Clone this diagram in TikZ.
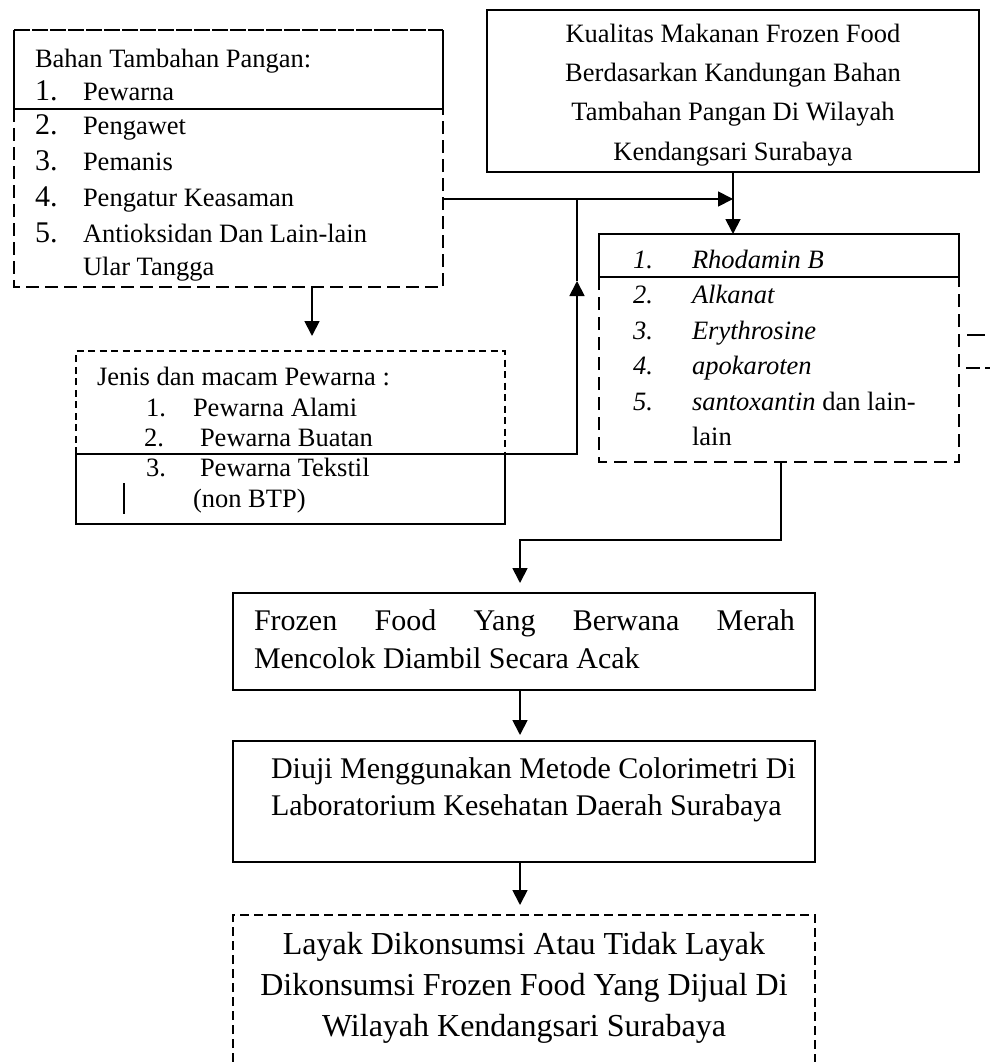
\documentclass[tikz,border=0pt]{standalone}
\usepackage{fontspec}
\setmainfont{Liberation Serif}
\usetikzlibrary{arrows.meta}
\begin{document}
\begin{tikzpicture}[x=1pt,y=-1pt,
  zone/.style={rectangle,inner sep=0pt,outer sep=0pt},
  lbl/.style={anchor=base west,inner sep=0pt,outer sep=0pt,font=\fontsize{26.5}{32}\selectfont},
  clbl/.style={lbl,anchor=base},
  bignum/.style={lbl,font=\fontsize{30}{32}\selectfont},
  itlbl/.style={lbl,font=\fontsize{26.5}{32}\selectfont\itshape},
  midtext/.style={lbl,font=\fontsize{30}{36}\selectfont},
  bigtext/.style={clbl,font=\fontsize{32}{40}\selectfont},
  rim/.style={line width=1.7pt},
  thickrim/.style={line width=2.3pt},
  dashA/.style={line width=1.7pt,dash pattern=on 13pt off 6pt},
  dashC/.style={line width=1.7pt,dash pattern=on 13pt off 7pt},
  dashD/.style={line width=1.5pt,dash pattern=on 7pt off 4.5pt},
  dashG/.style={line width=1.4pt,dash pattern=on 9pt off 5pt},
  link/.style={line width=1.8pt},
  arr/.style={link,-{Triangle[width=15pt,length=15pt]}}]
\useasboundingbox (0,0) rectangle (990,1062);

% ---------- box A : food additives ----------
\node[zone,minimum width=429pt,minimum height=257pt] (boxA) at (228.5,158.5) {};
\draw[rim,dash pattern=on 16pt off 2pt] (14,30) -- (443,30);
\draw[rim] (14,30) -- (14,109) -- (443,109) -- (443,30);
\draw[dashA] (14,109) -- (14,287) -- (443,287) -- (443,109);
\node[lbl] (a0) at (35,68) {Bahan Tambahan Pangan:};
\node[bignum] (a1n) at (35,101) {1.}; \node[lbl] (a1) at (83,101) {Pewarna};
\node[bignum] (a2n) at (35,135) {2.}; \node[lbl] (a2) at (83,135) {Pengawet};
\node[bignum] (a3n) at (35,170) {3.}; \node[lbl] (a3) at (83,170) {Pemanis};
\node[bignum] (a4n) at (35,206) {4.}; \node[lbl] (a4) at (83,206) {Pengatur Keasaman};
\node[bignum] (a5n) at (35,242) {5.}; \node[lbl] (a5) at (83,242) {Antioksidan Dan Lain-lain};
\node[lbl] (a6) at (83,275) {Ular Tangga};

% ---------- box B : title ----------
\node[zone,draw,thickrim,minimum width=492pt,minimum height=162pt] (boxB) at (733,91) {};
\node[clbl] (b1) at (733,43) {Kualitas Makanan Frozen Food};
\node[clbl] (b2) at (733,82) {Berdasarkan Kandungan Bahan};
\node[clbl] (b3) at (733,121) {Tambahan Pangan Di Wilayah};
\node[clbl] (b4) at (733,160) {Kendangsari Surabaya};

% ---------- box C : red dyes ----------
\node[zone,minimum width=360pt,minimum height=228pt] (boxC) at (779,348) {};
\draw[rim] (599,277) -- (599,234) -- (959,234) -- (959,285);
\draw[rim] (599,277) -- (959,277);
\draw[dashC] (599,277) -- (599,462) -- (959,462) -- (959,285);
\node[itlbl] (c1n) at (633,268) {1.}; \node[itlbl] (c1) at (692,268) {Rhodamin B};
\node[itlbl] (c2n) at (633,303) {2.}; \node[itlbl] (c2) at (692,303) {Alkanat};
\node[itlbl] (c3n) at (633,339) {3.}; \node[itlbl] (c3) at (692,339) {Erythrosine};
\node[itlbl] (c4n) at (633,374) {4.}; \node[itlbl] (c4) at (692,374) {apokaroten};
\node[itlbl] (c5n) at (633,410) {5.}; \node[lbl] (c5) at (692,410) {\textit{santoxantin} dan lain-};
\node[lbl] (c6) at (692,445) {lain};
\draw[rim] (967,335) -- (985,335);
\draw[rim,dash pattern=on 14pt off 5pt] (966,368) -- (990,368);

% ---------- box D : kinds of colourants ----------
\node[zone,minimum width=429pt,minimum height=173pt] (boxD) at (290.5,437.5) {};
\draw[dashD] (76,454) -- (76,351) -- (505,351) -- (505,454);
\draw[rim] (76,454) rectangle (505,524);
\node[lbl] (d0) at (97,385) {Jenis dan macam Pewarna :};
\node[lbl] (d1n) at (146,416) {1.}; \node[lbl] (d1) at (193,416) {Pewarna Alami};
\node[lbl] (d2n) at (144,446) {2.}; \node[lbl] (d2) at (200,446) {Pewarna Buatan};
\node[lbl] (d3n) at (146,476) {3.}; \node[lbl] (d3) at (200,476) {Pewarna Tekstil};
\node[lbl] (d4) at (193,507) {(non BTP)};
\draw[rim] (124,483) -- (124,514);

% ---------- boxes E, F, G : procedure ----------
\node[zone,draw,rim,minimum width=582pt,minimum height=97pt] (boxE) at (524,641.5) {};
\node[midtext] (e1) at (254,630) {\hbox to 541pt{Frozen\hfill Food\hfill Yang\hfill Berwana\hfill Merah}};
\node[midtext] (e2) at (254,668) {Mencolok Diambil Secara Acak};

\node[zone,draw,rim,minimum width=582pt,minimum height=121pt] (boxF) at (524,801.5) {};
\node[midtext] (f1) at (271,778) {Diuji Menggunakan Metode Colorimetri Di};
\node[midtext] (f2) at (271,815) {Laboratorium Kesehatan Daerah Surabaya};

\node[zone,minimum width=582pt,minimum height=150pt] (boxG) at (524,990) {};
\draw[dashG] (233,1062) -- (233,915) -- (815,915) -- (815,1062);
\node[bigtext] (g1) at (524,954) {Layak Dikonsumsi Atau Tidak Layak};
\node[bigtext] (g2) at (524,995) {Dikonsumsi Frozen Food Yang Dijual Di};
\node[bigtext] (g3) at (524,1036) {Wilayah Kendangsari Surabaya};

% ---------- connectors ----------
\coordinate (jn) at (577,199);
\coordinate (jtip) at (577,281);
\coordinate (tipA) at (312,336);
\coordinate (tipE) at (520,583);
\coordinate (tipF) at (520,735);
\coordinate (tipG) at (520,905);

\draw[arr] (boxA.east |- jn) -- (boxB.south |- jn);
\draw[arr] (boxB.south) -- (boxB.south |- boxC.north);
\draw[arr] (boxD.east |- 0,454) -| (jtip);
\draw[link] (jtip) -- (jn);
\draw[arr] (boxA.south -| tipA) -- (tipA);
\draw[arr] (boxC.south -| 781,0) |- (tipE |- 0,540) -- (tipE);
\draw[arr] (boxE.south -| tipF) -- (tipF);
\draw[arr] (boxF.south -| tipG) -- (tipG);
\end{tikzpicture}
\end{document}
